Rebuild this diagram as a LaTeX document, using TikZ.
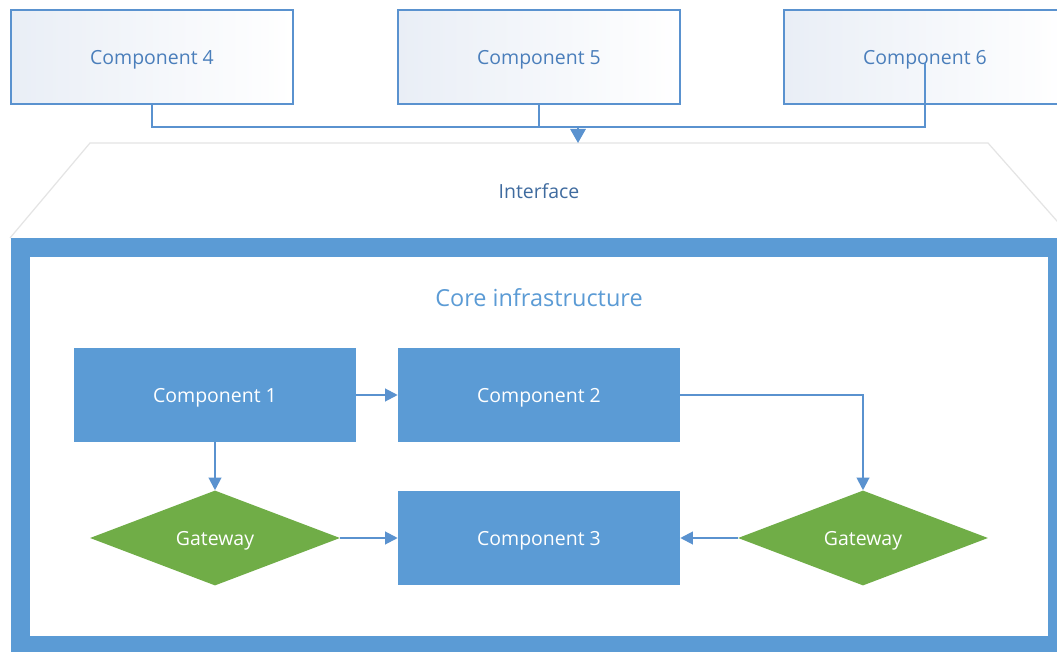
\documentclass[tikz,border=0pt]{standalone}
\usepackage{fontspec}
\setmainfont{Open Sans}
\usepackage{tikz}
\usetikzlibrary{shapes.geometric}
\usetikzlibrary{arrows.meta}

\definecolor{coreblue}{HTML}{5B9BD5}
\definecolor{linkblue}{HTML}{5A92CF}
\definecolor{textblue}{HTML}{4A7EBB}
\definecolor{gwgreen}{HTML}{70AD47}
\definecolor{ifcgray}{HTML}{E4E4E4}
\definecolor{paleblue}{HTML}{E9EEF6}

\begin{document}
\begin{tikzpicture}[x=0.75pt, y=-0.75pt]

\tikzset{outer/.style = {shape=rectangle, draw=linkblue, line width=1.1pt, left color=paleblue, right color=white, minimum width=211.5pt, minimum height=70.5pt, text depth=0pt, text=textblue, font=\fontsize{14.6}{17}\selectfont}}
\tikzset{block/.style = {shape=rectangle, fill=coreblue, minimum width=211.5pt, minimum height=70.5pt, text depth=0pt, text=white, font=\fontsize{14.6}{17}\selectfont}}
\tikzset{gate/.style = {shape=diamond, fill=gwgreen, inner sep=0pt, minimum width=187.5pt, minimum height=71.25pt, text depth=0pt, text=white, font=\fontsize{14.6}{17}\selectfont}}
\tikzset{link/.style = {draw=linkblue, line width=1.5pt, -{Triangle[length=9.5pt,width=9.5pt]}}}
\tikzset{bus/.style = {draw=linkblue, line width=1.5pt}}

\clip (0,0) rectangle (1057,652);
\fill[white] (0,0) rectangle (1057,652);

% interface and frame
\draw[ifcgray, line width=0.9pt] (10,238) -- (90,143) -- (988,143) -- (1072,238);
\node[text=textblue!85!black, font=\fontsize{14.6}{17}\selectfont] (ifc) at (539,191) {Interface};
\draw[coreblue, line width=14.25pt] (20.5,247.5) rectangle (1057.5,645.5);
\node[text=coreblue, font=\fontsize{17.6}{21}\selectfont] (core) at (539,298) {Core infrastructure};

% vertices
\node[outer] (c4) at (152,57)  {Component 4};
\node[outer] (c5) at (539,57)  {Component 5};
\node[outer] (c6) at (925,57)  {Component 6};
\node[block] (c1) at (215,395) {Component 1};
\node[block] (c2) at (539,395) {Component 2};
\node[block] (c3) at (539,538) {Component 3};
\node[gate]  (g1) at (215,538) {Gateway};
\node[gate]  (g2) at (863,538) {Gateway};
\coordinate (join) at (539,127);
\coordinate (drop) at (578,127);
\coordinate (ifctop) at (578,143);
\coordinate (tap) at (925,63);

% edges
\draw[bus] (c4.south) |- (join) -| (tap);
\draw[bus] (c5.south) -- (join);
\draw[link, -{Triangle[length=10.5pt,width=11.5pt]}] (drop) -- (ifctop);
\draw[link] (c1.east) -- (c2.west);
\draw[link] (c2.east) -| (g2.north);
\draw[link] (c1.south) -- (g1.north);
\draw[link] (g1.east) -- (c3.west);
\draw[link] (g2.west) -- (c3.east);
\end{tikzpicture}
\end{document}
